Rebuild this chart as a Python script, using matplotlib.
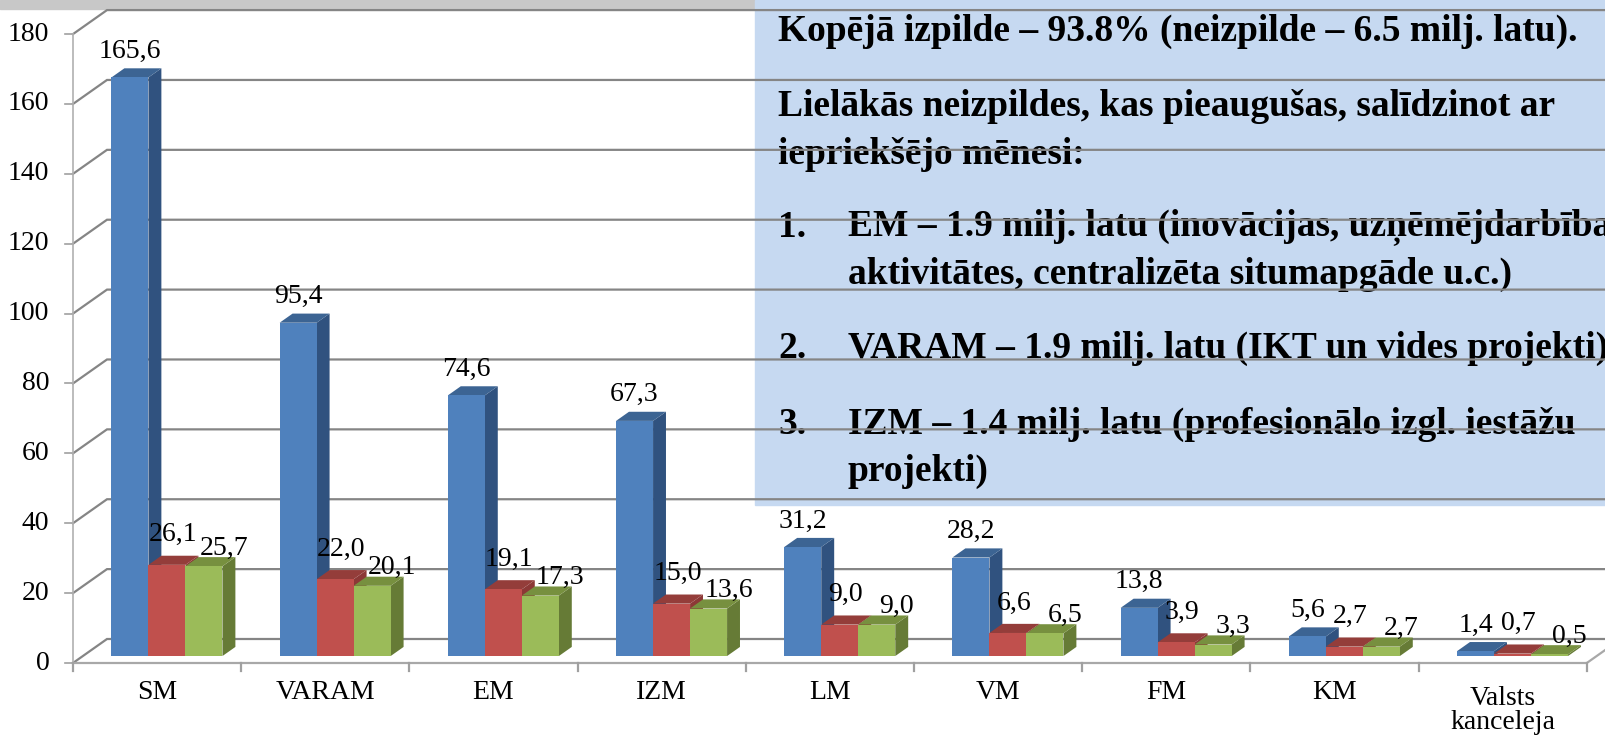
import matplotlib.pyplot as plt
from matplotlib.patches import Rectangle

categories = ['SM', 'VARAM', 'EM', 'IZM', 'LM', 'VM', 'FM', 'KM', 'Valsts\nkanceleja']
s_blue = [165.6, 95.4, 74.6, 67.3, 31.2, 28.2, 13.8, 5.6, 1.4]
s_red = [26.1, 22.0, 19.1, 15.0, 9.0, 6.6, 3.9, 2.7, 0.7]
s_green = [25.7, 20.1, 17.3, 13.6, 9.0, 6.5, 3.3, 2.7, 0.5]
yticks = list(range(0, 181, 20))

box_lines = [
    ('', 'Kopējā izpilde – 93.8% (neizpilde – 6.5 milj. latu).'),
    ('', 'Lielākās neizpildes, kas pieaugušas, salīdzinot ar'),
    ('', 'iepriekšējo mēnesi:'),
    ('1.', 'EM – 1.9 milj. latu (inovācijas, uzņēmējdarbības'),
    ('', 'aktivitātes, centralizēta situmapgāde u.c.)'),
    ('2.', 'VARAM – 1.9 milj. latu (IKT un vides projekti)'),
    ('3.', 'IZM – 1.4 milj. latu (profesionālo izgl. iestāžu'),
    ('', 'projekti)'),
]
box_y = [31, 106, 154, 227, 274, 348, 424, 471]   # pixel rows of the text lines
box_indent = [False, False, False, False, True, False, False, True]

# colours: front, side, top
colors = [('#4f81bd', '#30527f', '#3c6493'),
          ('#c0504d', '#8c3836', '#943d3a'),
          ('#9bbb59', '#667b36', '#77903f')]
lab_off = [(0, 26), (6, 30), (20, 18)]   # label offset in pixels

W, H = 1605, 737
fig = plt.figure(figsize=(W / 100, H / 100), dpi=100)
ax = fig.add_axes([0, 0, 1, 1])
cw = 168.2     # px per category
sc = 3.494     # px per unit
x0, y0 = 73, 663
ax.set_xlim(-x0 / cw, (W - x0) / cw)
ax.set_ylim(-(H - y0) / sc, y0 / sc)
ax.axis('off')

# depth of the 3d box in data units
dxd = 34 / cw
dyd = 24 / sc
f1, f2 = 0.29, 0.67
n = len(categories)
serif = 'Liberation Serif'

# top grey band and text box (behind the grid)
ax.add_patch(Rectangle((0, 1 - 9 / H), 755 / W, 9 / H, transform=ax.transAxes,
                       color='#c8c8c8', zorder=0))
ax.add_patch(Rectangle((755 / W, (H - 505) / H), 1 - 755 / W, 505 / H,
                       transform=ax.transAxes, color='#c6d9f1', zorder=1))
for (num, txt), yy, ind in zip(box_lines, box_y, box_indent):
    if num:
        ax.text(778 / W, 1 - yy / H, num, fontsize=27, fontweight='bold', family=serif,
                va='center', ha='left', transform=ax.transAxes, zorder=2)
    ax.text((848 if (num or ind) else 778) / W, 1 - yy / H, txt, fontsize=27,
            fontweight='bold', family=serif, va='center', ha='left',
            transform=ax.transAxes, zorder=2, clip_on=False)

# grid: back wall + left wall
gc = '#858585'
for v in yticks:
    ax.plot([0, dxd, 10], [v, v + dyd, v + dyd], color=gc, lw=1.6, zorder=3,
            solid_joinstyle='miter')
    ax.plot([-0.045, 0], [v, v], color='#a0a0a0', lw=1.2, zorder=3)
    ax.text(-0.14, v, str(v), ha='right', va='center', fontsize=20,
            family=serif, zorder=3)
ax.plot([0, 0], [0, 180], color='#b0b0b0', lw=1.2, zorder=3)
# floor front edge and right edge
ax.plot([0, n, n + dxd], [0, 0, dyd], color='#a8a8a8', lw=1.6, zorder=3)
for c in range(n + 1):
    ax.plot([c, c], [0, -2.4], color='#a0a0a0', lw=1.6, zorder=3)

# category labels
for i, cat in enumerate(categories):
    ax.text(i + 0.5, -8.3 if '\n' not in cat else -13.6, cat, ha='center', va='center',
            fontsize=20, family=serif, linespacing=0.9, zorder=3)

# 3d bars
bw = 0.22
start = 0.17
for i in range(n):
    for k, vals in enumerate([s_blue, s_red, s_green]):
        v = vals[i]
        fc, sc_, tc = colors[k]
        xl = i + start + k * bw
        ax1, ay1 = f1 * dxd, f1 * dyd
        ax2, ay2 = f2 * dxd, f2 * dyd
        # side
        ax.fill([xl + bw + ax1, xl + bw + ax2, xl + bw + ax2, xl + bw + ax1],
                [ay1, ay2, v + ay2, v + ay1], color=sc_, lw=0, zorder=4)
        # top
        ax.fill([xl + ax1, xl + bw + ax1, xl + bw + ax2, xl + ax2],
                [v + ay1, v + ay1, v + ay2, v + ay2], color=tc, lw=0, zorder=4)
        # front
        ax.fill([xl + ax1, xl + bw + ax1, xl + bw + ax1, xl + ax1],
                [ay1, ay1, v + ay1, v + ay1], color=fc, lw=0, zorder=4)
        dx, dy = lab_off[k]
        ax.annotate(f'{v:.1f}'.replace('.', ','), (xl + ax1 + bw / 2, v + ay1),
                    xytext=(dx, dy), textcoords='offset pixels', ha='center', va='center',
                    fontsize=20, family=serif, zorder=5)

fig.savefig('out.png', dpi=100)
